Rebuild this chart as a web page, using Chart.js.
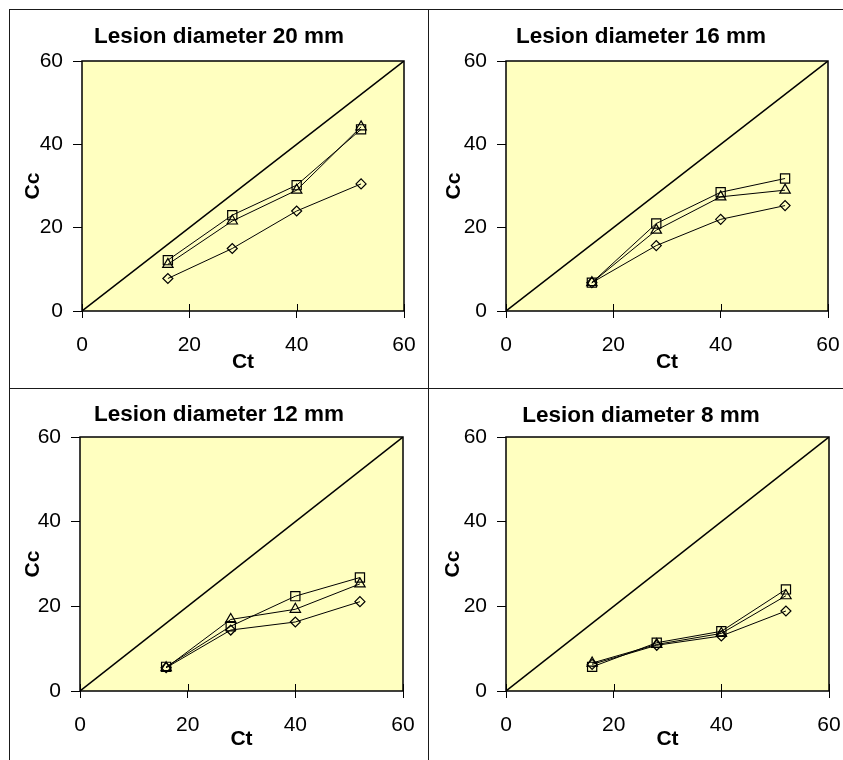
<!DOCTYPE html>
<html>
<head>
<meta charset="utf-8">
<script src="https://cdn.jsdelivr.net/npm/chart.js@4.4.1/dist/chart.umd.min.js"></script>
<style>
  html, body { margin: 0; padding: 0; background: #fff; }
  body { width: 843px; height: 760px; position: relative; overflow: hidden; }
  .rule { position: absolute; background: #1a1a1a; }
  canvas { position: absolute; }
</style>
</head>
<body>
<div class="rule" style="left:9px;top:9px;width:1px;height:751px"></div>
<div class="rule" style="left:428px;top:9px;width:1px;height:751px"></div>
<div class="rule" style="left:9px;top:9px;width:834px;height:1px"></div>
<div class="rule" style="left:9px;top:388px;width:834px;height:1px"></div>

<canvas id="panel20" width="418" height="378" style="left:10px;top:10px"></canvas>
<canvas id="panel16" width="424" height="378" style="left:429px;top:10px"></canvas>
<canvas id="panel12" width="418" height="371" style="left:10px;top:389px"></canvas>
<canvas id="panel8" width="424" height="371" style="left:429px;top:389px"></canvas>

<script>
// valores
const ctValues = [16, 28, 40, 52];
const axisTicks = [0, 20, 40, 60];
const identityLine = [0, 60];

const titles = ['Lesion diameter 20 mm', 'Lesion diameter 16 mm', 'Lesion diameter 12 mm', 'Lesion diameter 8 mm'];

// Cc por marcador (losango, quadrado, triangulo)
const diamond20 = [7.8, 15.0, 24.0, 30.5];
const square20 = [12.2, 23.0, 30.2, 43.6];
const triangle20 = [11.2, 21.6, 29.0, 44.2];

const diamond16 = [6.8, 15.7, 22.0, 25.3];
const square16 = [6.8, 21.0, 28.5, 31.8];
const triangle16 = [6.8, 19.4, 27.4, 29.0];

const diamond12 = [5.5, 14.4, 16.3, 21.1];
const square12 = [5.7, 15.3, 22.4, 26.8];
const triangle12 = [5.5, 16.9, 19.3, 25.3];

const diamond8 = [6.3, 10.8, 13.0, 18.9];
const square8 = [5.7, 11.4, 14.1, 24.0];
const triangle8 = [6.6, 11.0, 13.6, 22.5];

const FONT = "'Liberation Sans', Arial, sans-serif";

// posicao da area do grafico dentro de cada celula
const paineis = [
  { id: 'panel20', title: titles[0], d: diamond20, s: square20, t: triangle20, l: 72, r: 394, t0: 51, b: 301, titleY: 27, ccX: 23, ctFromBottom: 26 },
  { id: 'panel16', title: titles[1], d: diamond16, s: square16, t: triangle16, l: 77, r: 399, t0: 51, b: 301, titleY: 27, ccX: 25, ctFromBottom: 26 },
  { id: 'panel12', title: titles[2], d: diamond12, s: square12, t: triangle12, l: 70, r: 393, t0: 48, b: 302, titleY: 26, ccX: 23, ctFromBottom: 21 },
  { id: 'panel8',  title: titles[3], d: diamond8,  s: square8,  t: triangle8,  l: 77, r: 400, t0: 48, b: 302, titleY: 27, ccX: 24, ctFromBottom: 21 }
];

const moldura = {
  id: 'moldura',
  beforeDraw(chart) {
    const { ctx, chartArea: a } = chart;
    ctx.save();
    ctx.fillStyle = '#ffffc0';
    ctx.fillRect(a.left, a.top, a.right - a.left, a.bottom - a.top);
    ctx.restore();
  },
  afterDraw(chart) {
    const { ctx, chartArea: a, scales } = chart;
    ctx.save();
    ctx.strokeStyle = '#000';
    ctx.lineWidth = 1.5;
    ctx.strokeRect(a.left, a.top, a.right - a.left, a.bottom - a.top);
    // parte interna das marcas do eixo x
    ctx.lineWidth = 1;
    scales.x.ticks.forEach(t => {
      const px = Math.round(scales.x.getPixelForValue(t.value)) + 0.5;
      ctx.beginPath();
      ctx.moveTo(px, a.bottom);
      ctx.lineTo(px, a.bottom - 7);
      ctx.stroke();
    });
    ctx.restore();
  }
};

function serie(valores, estilo, raio) {
  return {
    data: ctValues.map((x, i) => ({ x: x, y: valores[i] })),
    showLine: true,
    borderColor: '#000',
    borderWidth: 1,
    pointStyle: estilo,
    pointRadius: raio,
    pointBorderWidth: 1.2,
    pointBorderColor: '#000',
    pointBackgroundColor: 'rgba(0,0,0,0)'
  };
}

function criarPainel(p) {
  const canvas = document.getElementById(p.id);
  const W = canvas.width, H = canvas.height;
  const lh = 21 * 1.2;
  const titleLh = 22.5 * 1.2;
  const padTop = p.titleY - titleLh / 2;

  new Chart(canvas.getContext('2d'), {
    type: 'scatter',
    data: {
      datasets: [
        {
          data: identityLine.map(v => ({ x: v, y: v })),
          showLine: true,
          borderColor: '#000',
          borderWidth: 1.5,
          pointRadius: 0
        },
        serie(p.d, 'rectRot', 5),
        serie(p.s, 'rect', 6.5),
        serie(p.t, 'triangle', 6)
      ]
    },
    options: {
      responsive: false,
      animation: false,
      devicePixelRatio: 1,
      layout: { padding: 0 },
      plugins: {
        legend: { display: false },
        tooltip: { enabled: false },
        title: {
          display: true,
          text: p.title,
          color: '#000',
          font: { family: FONT, size: 22.5, weight: 'bold' },
          padding: { top: padTop, bottom: p.t0 - padTop - titleLh }
        }
      },
      scales: {
        x: {
          type: 'linear',
          min: 0, max: 60,
          afterBuildTicks: s => { s.ticks = axisTicks.map(v => ({ value: v })); },
          afterFit: s => { s.height = H - p.b; },
          ticks: { color: '#000', font: { family: FONT, size: 21, lineHeight: 1.6 }, padding: 10, maxRotation: 0 },
          grid: { drawOnChartArea: false, drawTicks: true, tickLength: 7, color: '#000', tickWidth: 1 },
          border: { display: false },
          title: {
            display: true, text: 'Ct', color: '#000',
            font: { family: FONT, size: 21, weight: 'bold' },
            padding: { top: 0, bottom: p.ctFromBottom - lh / 2 }
          }
        },
        y: {
          type: 'linear',
          min: 0, max: 60,
          afterBuildTicks: s => { s.ticks = axisTicks.map(v => ({ value: v })); },
          afterFit: s => { s.width = p.l; },
          ticks: { color: '#000', font: { family: FONT, size: 21 }, padding: 10 },
          grid: { drawOnChartArea: false, drawTicks: true, tickLength: 9, color: '#000', tickWidth: 1 },
          border: { display: false },
          title: {
            display: true, text: 'Cc', color: '#000',
            font: { family: FONT, size: 21, weight: 'bold' },
            padding: { top: p.ccX - lh / 2, bottom: 0 }
          }
        },
        // eixo vazio so para reservar a margem direita (titulo fica centrado na celula)
        margem: {
          type: 'linear',
          position: 'right',
          display: true,
          ticks: { display: false },
          grid: { display: false },
          border: { display: false },
          afterFit: s => { s.width = W - p.r; }
        }
      }
    },
    plugins: [moldura]
  });
}

paineis.forEach(criarPainel);
</script>
</body>
</html>
